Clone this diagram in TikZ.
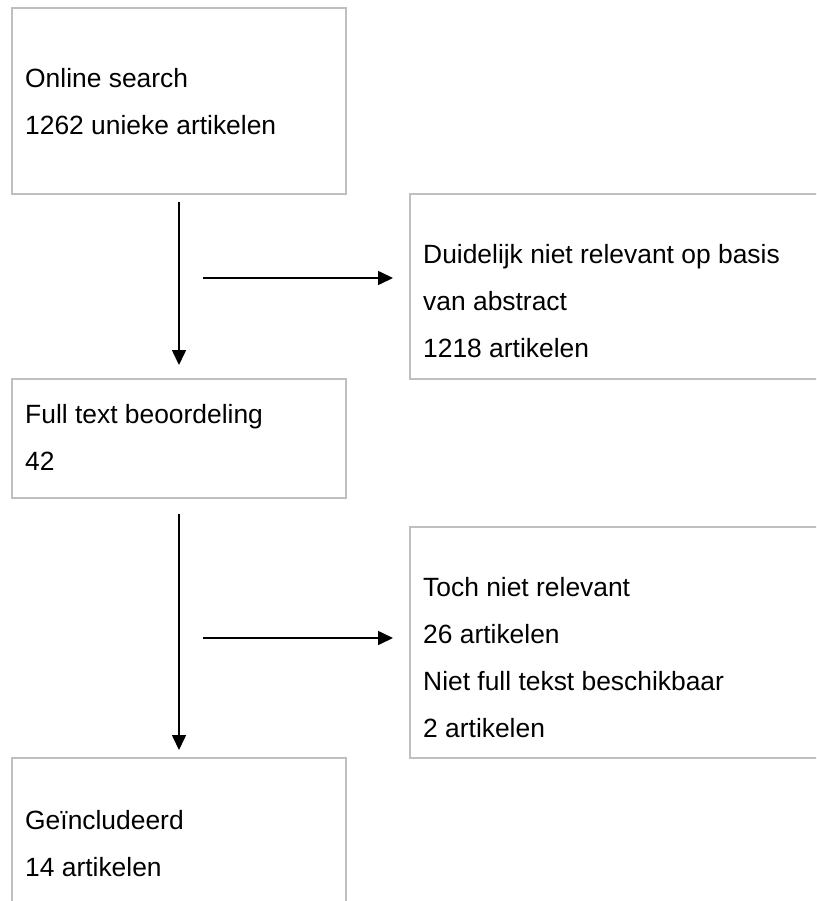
\documentclass[tikz,border=0pt]{standalone}
\usepackage{fontspec}
\setmainfont{Liberation Sans}
\usetikzlibrary{arrows.meta}

\tikzset{
  box/.style={draw=gray!50, line width=2pt, anchor=north west, inner sep=0pt},
  txt/.style={anchor=west, align=left, inner sep=0pt,
    font=\fontsize{26.4}{47}\selectfont},
  flow/.style={line width=1.6pt, -{Triangle[length=15pt,width=14pt]}}
}

\begin{document}
\begin{tikzpicture}[x=1pt, y=-1pt]
\useasboundingbox (0,0) rectangle (816,901);
\clip (0,0) rectangle (816,901);

\node[box, minimum width=334pt, minimum height=186pt] (search) at (11,7) {};
\node[box, minimum width=430pt, minimum height=185pt] (abstract) at (409,193) {};
\node[box, minimum width=334pt, minimum height=119pt] (fulltext) at (11,378) {};
\node[box, minimum width=430pt, minimum height=231pt] (excluded) at (409,526) {};
\node[box, minimum width=334pt, minimum height=180pt] (included) at (11,757) {};

\node[txt] (searchtxt) at (25,101.5) {Online search\\1262 unieke artikelen};
\node[txt] (abstracttxt) at (423,301.5) {Duidelijk niet relevant op basis\\van abstract\\1218 artikelen};
\node[txt] (fulltexttxt) at (25,437) {Full text beoordeling\\42};
\node[txt] (excludedtxt) at (423,658) {Toch niet relevant\\26 artikelen\\Niet full tekst beschikbaar\\2 artikelen};
\node[txt] (includedtxt) at (25,844) {Ge\"includeerd\\14 artikelen};

\coordinate (split1) at (203,278);
\coordinate (split2) at (203,638);

\draw[flow, shorten <=7pt, shorten >=13pt] (search.south) -- (fulltext.north);
\draw[flow, shorten <=15pt, shorten >=7pt] (fulltext.south) -- (included.north);
\draw[flow, shorten >=16pt] (split1) -- (split1 -| abstract.west);
\draw[flow, shorten >=16pt] (split2) -- (split2 -| excluded.west);
\end{tikzpicture}
\end{document}
